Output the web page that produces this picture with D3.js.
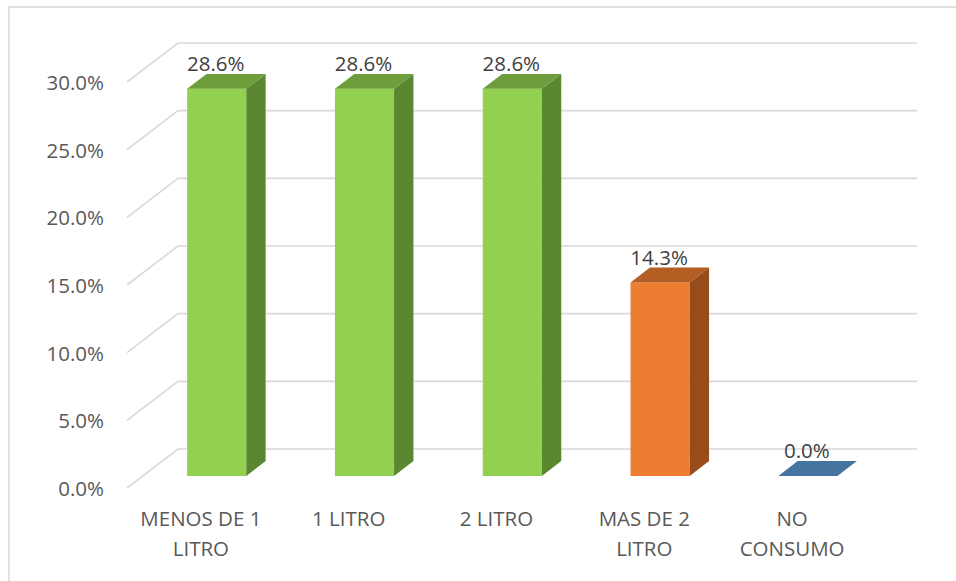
<!DOCTYPE html>
<html>
<head>
<meta charset="utf-8">
<script src="https://cdn.jsdelivr.net/npm/d3@7"></script>
<style>
  html, body { margin: 0; padding: 0; background: #ffffff; }
  svg { display: block; }
</style>
</head>
<body>
<svg id="chart" width="956" height="581"></svg>
<script>
// Consumption categories and their shares (%)
const categories = [["MENOS DE 1", "LITRO"], ["1 LITRO"], ["2 LITRO"], ["MAS DE 2", "LITRO"], ["NO", "CONSUMO"]];
const values = [28.6, 28.6, 28.6, 14.3, 0.0];
const valueLabels = ["28.6%", "28.6%", "28.6%", "14.3%", "0.0%"];
const tickValues = [0, 5, 10, 15, 20, 25, 30];
const tickLabels = ["0.0%", "5.0%", "10.0%", "15.0%", "20.0%", "25.0%", "30.0%"];

// Face colours per bar: front, top, side
const frontColors = ["#92D050", "#92D050", "#92D050", "#ED7D31", "#5B9BD5"];
const topColors   = ["#6E9D3B", "#6E9D3B", "#6E9D3B", "#B45E24", "#4674A0"];
const sideColors  = ["#5C8731", "#5C8731", "#5C8731", "#984C1C", "#3B618A"];

const svg = d3.select("#chart");
const font = "'Open Sans', 'Liberation Sans', sans-serif";

// Frame
svg.append("rect")
  .attr("x", 9).attr("y", 7).attr("width", 960).attr("height", 600)
  .attr("fill", "none").attr("stroke", "#d9d9d9").attr("stroke-width", 1.5);

// Floor geometry: front edge and depth vector of the 3D plot box
const floorY = 488;
const x0 = 127, x1 = 866;
const depth = { dx: 51, dy: -39 };
const backRight = 917;

const x = d3.scaleBand().domain(d3.range(categories.length)).range([x0, x1])
  .paddingInner(0.6).paddingOuter(0.3);
const h = d3.scaleLinear().domain([0, 30]).range([0, 406]);

// project a point: front-axis x, value, depth fraction t
function P(px, v, t) {
  return [px + depth.dx * t, floorY - h(v) + depth.dy * t];
}

// Gridlines: side wall diagonal + back wall horizontal
const grid = svg.append("g");
tickValues.forEach(v => {
  const a = P(x0, v, 0), b = P(x0, v, 1);
  grid.append("polyline")
    .attr("points", [a, b, [backRight, b[1]]].map(p => p.join(",")).join(" "))
    .attr("fill", "none").attr("stroke", "#d9d9d9").attr("stroke-width", 1.6);
});

// Y axis labels
svg.append("g").selectAll("text").data(tickValues).join("text")
  .attr("x", 104)
  .attr("y", (v) => P(x0, v, 0)[1] + 8)
  .attr("text-anchor", "end")
  .attr("font-family", font).attr("font-size", 20.5).attr("fill", "#595959")
  .text((v, i) => tickLabels[i]);

// 3D bars
const t0 = 0.31, t1 = 0.69;
const bars = svg.append("g");
values.forEach((v, i) => {
  const xl = x(i), xr = x(i) + x.bandwidth();
  const g = bars.append("g");
  const poly = (pts, fill) => g.append("polygon")
    .attr("points", pts.map(p => p.join(",")).join(" "))
    .attr("fill", fill);
  if (v > 0) {
    // front face
    poly([P(xl, 0, t0), P(xr, 0, t0), P(xr, v, t0), P(xl, v, t0)], frontColors[i]);
    // side face
    poly([P(xr, 0, t0), P(xr, 0, t1), P(xr, v, t1), P(xr, v, t0)], sideColors[i]);
  }
  // top face
  poly([P(xl, v, t0), P(xr, v, t0), P(xr, v, t1), P(xl, v, t1)], topColors[i]);
});

// Value labels above each bar
svg.append("g").selectAll("text").data(values).join("text")
  .attr("x", (v, i) => P(x(i) + x.bandwidth() / 2, v, t0)[0] - 1)
  .attr("y", (v) => P(0, v, t1)[1] - 3)
  .attr("text-anchor", "middle")
  .attr("font-family", font).attr("font-size", 20.5).attr("fill", "#404040")
  .text((v, i) => valueLabels[i]);

// Category labels (wrapped)
const cat = svg.append("g").selectAll("text").data(categories).join("text")
  .attr("text-anchor", "middle")
  .attr("font-family", font).attr("font-size", 20.5).attr("fill", "#595959");
cat.each(function (lines, i) {
  const cx = x(i) + x.bandwidth() / 2;
  d3.select(this).selectAll("tspan").data(lines).join("tspan")
    .attr("x", cx)
    .attr("y", (d, j) => floorY + 38 + j * 30)
    .text(d => d);
});
</script>
</body>
</html>
